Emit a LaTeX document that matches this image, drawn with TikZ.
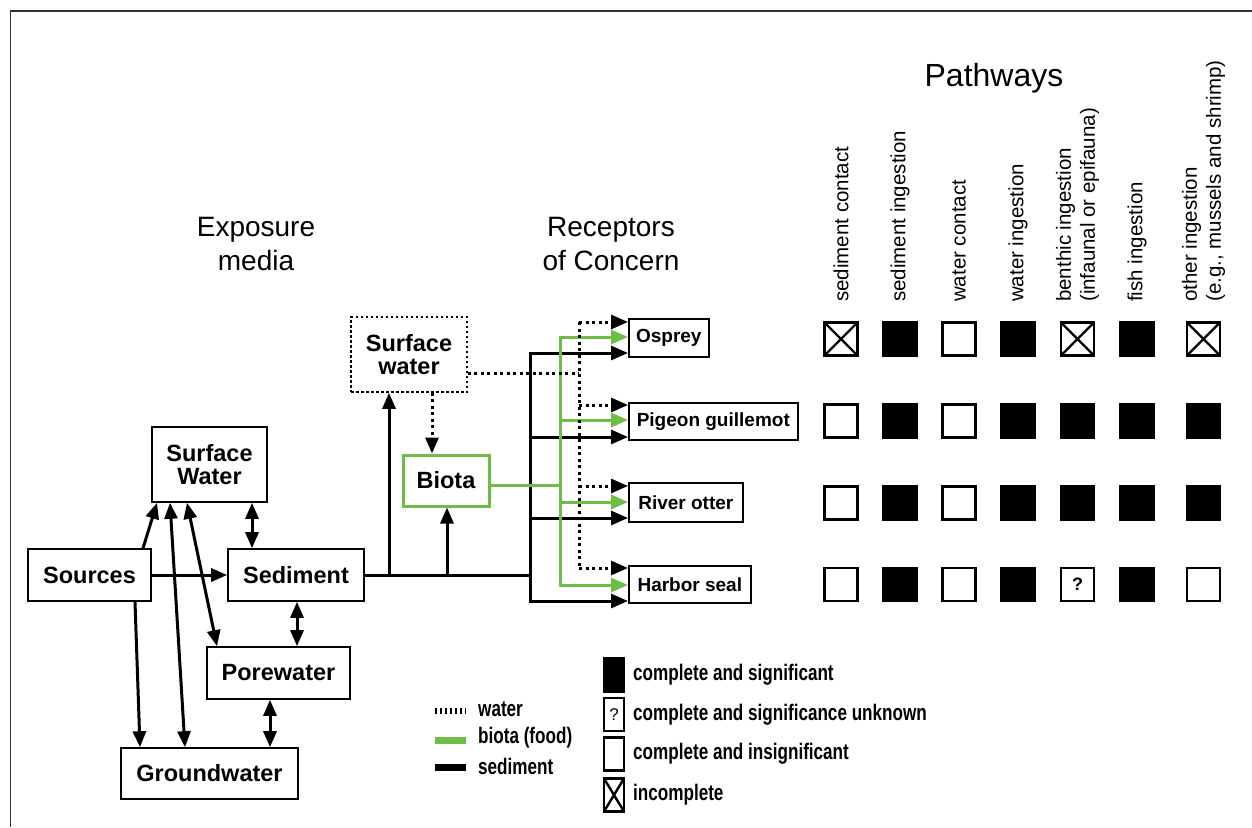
\documentclass[tikz,border=0pt]{standalone}
\usepackage{fontspec}
\setmainfont{Liberation Sans}
\usetikzlibrary{arrows.meta}
\definecolor{biogreen}{RGB}{108,190,69}
\definecolor{framegray}{RGB}{50,50,50}
\newcommand{\lgd}[1]{\scalebox{0.76}[1]{#1}}
\begin{document}
\begin{tikzpicture}[x=1pt,y=-1pt,
  box/.style={draw, line width=1.6pt, inner sep=0pt, align=center,
    font=\fontsize{23.5}{23}\selectfont\bfseries},
  rbox/.style={draw, line width=1.6pt, inner sep=0pt, anchor=west,
    font=\fontsize{19}{22}\selectfont\bfseries},
  sed/.style={line width=3pt},
  wat/.style={line width=3pt, dash pattern=on 3pt off 3.5pt},
  bio/.style={line width=3pt, draw=biogreen},
  tip/.style={-{Triangle[length=16pt,width=13pt]}},
  dtip/.style={{Triangle[length=16pt,width=13pt]}-{Triangle[length=16pt,width=13pt]}},
  rtip/.style={-{Triangle[length=17pt,width=14pt]}},
  gtip/.style={-{Triangle[length=17pt,width=14pt,fill=biogreen,color=biogreen]}},
  ttl/.style={font=\fontsize{28}{34.5}\selectfont, align=center, inner sep=0pt},
  col/.style={rotate=90, anchor=west, align=left, inner sep=0pt,
    font=\fontsize{20.5}{24}\selectfont},
  sq/.style={draw, line width=2.4pt, minimum size=33pt, inner sep=0pt},
  sqF/.style={sq, fill=black},
  sqE/.style={sq},
  sqX/.style={sq, path picture={
    \draw[line width=2.4pt] (path picture bounding box.north west) -- (path picture bounding box.south east)
      (path picture bounding box.south west) -- (path picture bounding box.north east);}},
  sqQ/.style={sq, font=\fontsize{18}{20}\selectfont\bfseries},
  lsq/.style={draw, line width=2.4pt, minimum width=20pt, minimum height=33pt, inner sep=0pt},
  ltxt/.style={anchor=west, inner sep=0pt, font=\fontsize{22.5}{24}\selectfont\bfseries}
]
\useasboundingbox (0,0) rectangle (1252,827);
\fill[white] (0,0) rectangle (1252,827);
% frame
\draw[line width=1.5pt, framegray] (10.5,827) -- (10.5,11) -- (1252,11);

% titles
\node[ttl] (t-exp) at (256,244) {Exposure\\media};
\node[ttl] (t-rec) at (611,244) {Receptors\\of Concern};
\node[anchor=base, inner sep=0pt, font=\fontsize{32}{36}\selectfont] (t-path) at (994,86) {Pathways};

% exposure media boxes
\node[box, minimum width=115pt, minimum height=75pt] (swl) at (209.5,464.5) {Surface\\Water};
\node[box, minimum width=123pt, minimum height=52pt] (sources) at (89.5,575) {Sources};
\node[box, minimum width=136pt, minimum height=52pt] (sediment) at (296,575) {Sediment};
\node[box, minimum width=143pt, minimum height=52pt] (pw) at (278.5,673) {Porewater};
\node[box, minimum width=177pt, minimum height=51pt] (gw) at (209.5,773.5) {Groundwater};
\node[box, dash pattern=on 2.5pt off 2.5pt, minimum width=116pt, minimum height=75pt] (swd) at (409,354.5) {Surface\\water};
\node[box, draw=biogreen, line width=3pt, minimum width=86pt, minimum height=51pt] (biota) at (446,480.5) {Biota};

% receptors
\node[rbox, minimum width=80pt, minimum height=38pt] (osprey) at (628,338) {Osprey};
\node[rbox, minimum width=169pt, minimum height=37pt] (pigeon) at (628,421.5) {Pigeon guillemot};
\node[rbox, minimum width=114pt, minimum height=39pt] (otter) at (628,502.5) {River otter};
\node[rbox, minimum width=122pt, minimum height=37pt] (seal) at (628,584.5) {Harbor seal};

% left arrows
\draw[sed, tip] (sources.north -| 143,0) -- (swl.south -| 157,0);
\draw[sed, tip] (sources.east) -- (sediment.west);
\draw[sed, tip] (sources.south -| 135,0) -- (gw.north -| 140,0);
\draw[sed, dtip] (gw.north -| 185,0) -- (swl.south -| 170,0);
\draw[sed, dtip] (swl.south -| 187,0) -- (pw.north -| 217,0);
\draw[sed, dtip] (swl.south -| 252,0) -- (sediment.north -| 252,0);
\draw[sed, dtip] (sediment.south -| 297,0) -- (pw.north -| 297,0);
\draw[sed, dtip] (pw.south -| 270,0) -- (gw.north -| 270,0);

% bus coordinates
\coordinate (bj) at (530,575);
\coordinate (j1) at (389,575);
\coordinate (j2) at (447,575);
\coordinate (bb1) at (530,353);
\coordinate (bb2) at (530,437);
\coordinate (bb3) at (530,518);
\coordinate (bb4) at (530,601);
\coordinate (gj) at (560,485);
\coordinate (gb1) at (560,337);
\coordinate (gb2) at (560,420);
\coordinate (gb3) at (560,502);
\coordinate (gb4) at (560,585);
\coordinate (wj) at (579,373);
\coordinate (wb1) at (579,322);
\coordinate (wb2) at (579,405);
\coordinate (wb3) at (579,486);
\coordinate (wb4) at (579,568);

% sediment pathway
\draw[sed] (sediment.east) -- (bj);
\draw[sed, line cap=rect] (bb1) -- (bb4);
\draw[sed, tip] (j1) -- (swd.south -| j1);
\draw[sed, tip] (j2) -- (biota.south -| j2);
\draw[sed, rtip] (bb1) -- (osprey.west |- bb1);
\draw[sed, rtip] (bb2) -- (pigeon.west |- bb2);
\draw[sed, rtip] (bb3) -- (otter.west |- bb3);
\draw[sed, rtip] (bb4) -- (seal.west |- bb4);

% biota pathway
\draw[bio] (biota.east |- gj) -- (gj);
\draw[bio, line cap=rect] (gb1) -- (gb4);
\draw[bio, gtip] (gb1) -- (osprey.west |- gb1);
\draw[bio, gtip] (gb2) -- (pigeon.west |- gb2);
\draw[bio, gtip] (gb3) -- (otter.west |- gb3);
\draw[bio, gtip] (gb4) -- (seal.west |- gb4);

% water pathway
\draw[wat, tip] (swd.south -| 432,0) -- (biota.north -| 432,0);
\draw[wat] (swd.east |- wj) -- (wj);
\draw[wat] (wb1) -- (wb4);
\draw[wat, rtip] (wb1) -- (osprey.west |- wb1);
\draw[wat, rtip] (wb2) -- (pigeon.west |- wb2);
\draw[wat, rtip] (wb3) -- (otter.west |- wb3);
\draw[wat, rtip] (wb4) -- (seal.west |- wb4);

% pathway column labels
\node[col] (c1) at (841,302) {sediment contact};
\node[col] (c2) at (900,302) {sediment ingestion};
\node[col] (c3) at (959,302) {water contact};
\node[col] (c4) at (1018,302) {water ingestion};
\node[col] (c5) at (1077.5,302) {benthic ingestion\\(infaunal or epifauna)};
\node[col] (c6) at (1137,302) {fish ingestion};
\node[col] (c7) at (1203.5,302) {other ingestion\\(e.g., mussels and shrimp)};

% matrix: Osprey
\node[sqX] (s11) at (841,339) {};
\node[sqF] (s12) at (900,339) {};
\node[sqE] (s13) at (959,339) {};
\node[sqF] (s14) at (1018,339) {};
\node[sqX] (s15) at (1077.5,339) {};
\node[sqF] (s16) at (1137,339) {};
\node[sqX] (s17) at (1203.5,339) {};
% Pigeon guillemot
\node[sqE] (s21) at (841,421) {};
\node[sqF] (s22) at (900,421) {};
\node[sqE] (s23) at (959,421) {};
\node[sqF] (s24) at (1018,421) {};
\node[sqF] (s25) at (1077.5,421) {};
\node[sqF] (s26) at (1137,421) {};
\node[sqF] (s27) at (1203.5,421) {};
% River otter
\node[sqE] (s31) at (841,503) {};
\node[sqF] (s32) at (900,503) {};
\node[sqE] (s33) at (959,503) {};
\node[sqF] (s34) at (1018,503) {};
\node[sqF] (s35) at (1077.5,503) {};
\node[sqF] (s36) at (1137,503) {};
\node[sqF] (s37) at (1203.5,503) {};
% Harbor seal
\node[sqE] (s41) at (841,584.5) {};
\node[sqF] (s42) at (900,584.5) {};
\node[sqE] (s43) at (959,584.5) {};
\node[sqF] (s44) at (1018,584.5) {};
\node[sqQ] (s45) at (1077.5,584.5) {?};
\node[sqF] (s46) at (1137,584.5) {};
\node[sqE] (s47) at (1203.5,584.5) {};

% line legend
\coordinate (lw1) at (435,711);
\coordinate (lw2) at (466,711);
\coordinate (lg1) at (435,740);
\coordinate (lg2) at (466,740);
\coordinate (ls1) at (435,767);
\coordinate (ls2) at (466,767);
\draw[line width=6pt, dash pattern=on 2pt off 3pt] (lw1) -- (lw2);
\draw[line width=7pt, biogreen] (lg1) -- (lg2);
\draw[line width=7pt] (ls1) -- (ls2);
\node[ltxt] (lt1) at (478,709) {\lgd{water}};
\node[ltxt] (lt2) at (478,738) {\lgd{biota (food)}};
\node[ltxt] (lt3) at (478,766) {\lgd{sediment}};

% symbol legend
\node[lsq, fill=black] (l1) at (614,675) {};
\node[lsq, font=\fontsize{17}{18}\selectfont] (l2) at (614,714.5) {?};
\node[lsq] (l3) at (614,754) {};
\node[lsq, path picture={
    \draw[line width=2.4pt] (path picture bounding box.north west) -- (path picture bounding box.south east)
      (path picture bounding box.south west) -- (path picture bounding box.north east);}] (l4) at (614,795) {};
\node[ltxt] (lx1) at (633,675) {\lgd{complete and significant}};
\node[ltxt] (lx2) at (633,714.5) {\lgd{complete and significance unknown}};
\node[ltxt] (lx3) at (633,754) {\lgd{complete and insignificant}};
\node[ltxt] (lx4) at (633,795) {\lgd{incomplete}};
\end{tikzpicture}
\end{document}
